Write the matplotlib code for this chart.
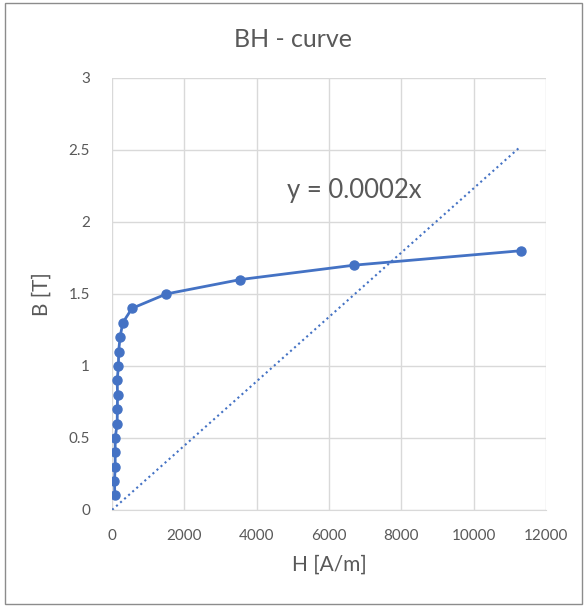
import numpy as np
import matplotlib.pyplot as plt
from matplotlib.patches import Rectangle

plt.rcParams['font.family'] = ['Lato', 'DejaVu Sans']

# BH-curve data
H = [75, 65, 85, 85, 85, 140, 145, 150, 140, 175, 180, 220, 295, 550, 1500, 3550, 6700, 11300]
B = [0.1, 0.2, 0.3, 0.4, 0.5, 0.6, 0.7, 0.8, 0.9, 1.0, 1.1, 1.2, 1.3, 1.4, 1.5, 1.6, 1.7, 1.8]

x_ticks = [0, 2000, 4000, 6000, 8000, 10000, 12000]
y_ticks = [0, 0.5, 1, 1.5, 2, 2.5, 3]

blue = '#4472C4'
grey = '#595959'

H_arr = np.array(H, dtype=float)
B_arr = np.array(B)
# linear trendline through origin (least squares)
k = np.sum(H_arr * B_arr) / np.sum(H_arr ** 2)

fig = plt.figure(figsize=(5.87, 6.07), dpi=100)
ax = fig.add_axes([0.191, 0.160, 0.739, 0.7115])

ax.plot(H, B, color=blue, lw=2, marker='o', ms=6.5, zorder=3)
hx = np.array([0, H_arr.max()])
ax.plot(hx, k * hx, color=blue, lw=1.5, ls=(0, (1, 1.6)), zorder=2)

ax.text(4850, 2.22, 'y = 0.0002x', fontsize=18.5, color=grey, va='center', ha='left')

ax.set_xlim(0, 12000)
ax.set_ylim(0, 3)
ax.set_xticks(x_ticks)
ax.set_yticks(y_ticks)
ax.set_yticklabels(['0', '0.5', '1', '1.5', '2', '2.5', '3'])
ax.grid(True, color='#d9d9d9', lw=1)
ax.set_axisbelow(True)
for s in ['top', 'right', 'left']:
    ax.spines[s].set_visible(False)
ax.spines['bottom'].set_color('#d9d9d9')
ax.tick_params(axis='x', length=0, labelsize=11, colors=grey, pad=14)
ax.tick_params(axis='y', length=0, labelsize=11, colors=grey, pad=16)

ax.set_xlabel('H [A/m]', fontsize=15, color=grey, labelpad=8)
ax.set_ylabel('B [T]', fontsize=15, color=grey, labelpad=12)
fig.text(0.5, 0.935, 'BH - curve', fontsize=18, color=grey, ha='center', va='center')

fig.patches.append(Rectangle((0.009, 0.005), 0.982, 0.99, transform=fig.transFigure,
                             fill=False, edgecolor='#8c8c8c', lw=1))

fig.savefig('out.png', dpi=100)
